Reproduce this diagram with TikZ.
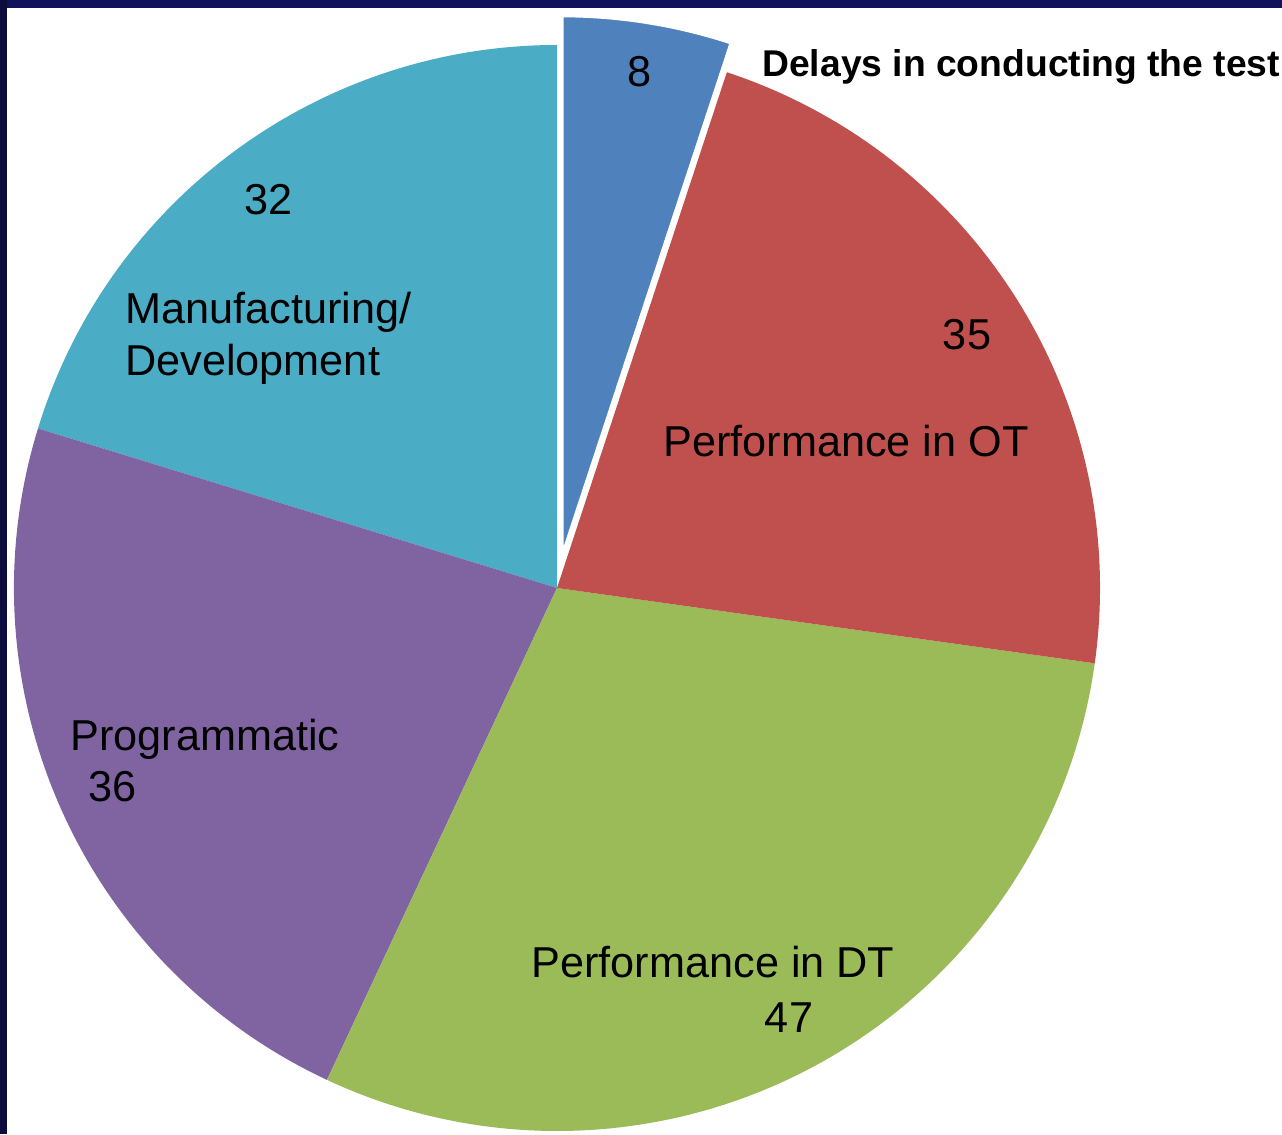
\documentclass[tikz,border=0pt]{standalone}
\usepackage{fontspec}
\setmainfont{Liberation Sans}
\definecolor{navy}{RGB}{18,18,88}
\definecolor{sblue}{RGB}{79,129,189}
\definecolor{sred}{RGB}{192,80,77}
\definecolor{sgreen}{RGB}{155,187,89}
\definecolor{spurple}{RGB}{128,100,162}
\definecolor{scyan}{RGB}{75,172,198}
\begin{document}
\begin{tikzpicture}[
  lbl/.style={inner sep=0pt, font=\fontsize{24.6}{29.5}\selectfont, text=black},
  ttl/.style={inner sep=0pt, font=\fontsize{21.2}{25}\selectfont\bfseries, text=black}]
\useasboundingbox (0,0) rectangle (25.64,22.68);
\fill[white] (0,0) rectangle (25.64,22.68);
\fill[navy] (0,22.52) rectangle (25.64,22.68);
\fill[navy!70!black] (0,0) rectangle (0.14,22.68);
\def\R{10.86}
\coordinate (c) at (11.14,10.92);
\coordinate (cb) at (11.235,11.512);
% slices
\fill[scyan] (c) -- ++(90:\R) arc[start angle=90,end angle=162.911,radius=\R] -- cycle;
\fill[spurple] (c) -- ++(162.911:\R) arc[start angle=162.911,end angle=244.936,radius=\R] -- cycle;
\fill[sgreen] (c) -- ++(-115.064:\R) arc[start angle=-115.064,end angle=-7.975,radius=\R] -- cycle;
\fill[sred] (c) -- ++(-7.975:\R) arc[start angle=-7.975,end angle=71.772,radius=\R] -- cycle;
\filldraw[fill=sblue, draw=white, line width=2.2pt, line join=miter] (cb) -- ++(71.772:\R) arc[start angle=71.772,end angle=90,radius=\R] -- cycle;
% labels
\node[lbl] (n8) at (12.80,21.24) {8};
\node[ttl, anchor=west] (delay) at (15.24,21.34) {Delays in conducting the test};
\node[lbl] (n35) at (19.34,15.98) {35};
\node[lbl] (ot) at (16.92,13.86) {Performance in OT};
\node[lbl] (n32) at (5.38,18.68) {32};
\node[lbl, anchor=west, align=left] (manu) at (2.50,15.91) {Manufacturing/\\Development};
\node[lbl, anchor=west] (prog) at (1.40,7.90) {Programmatic};
\node[lbl] (n36) at (2.26,6.94) {36};
\node[lbl] (dt) at (14.26,3.44) {Performance in DT};
\node[lbl] (n47) at (15.78,2.32) {47};
\end{tikzpicture}
\end{document}
